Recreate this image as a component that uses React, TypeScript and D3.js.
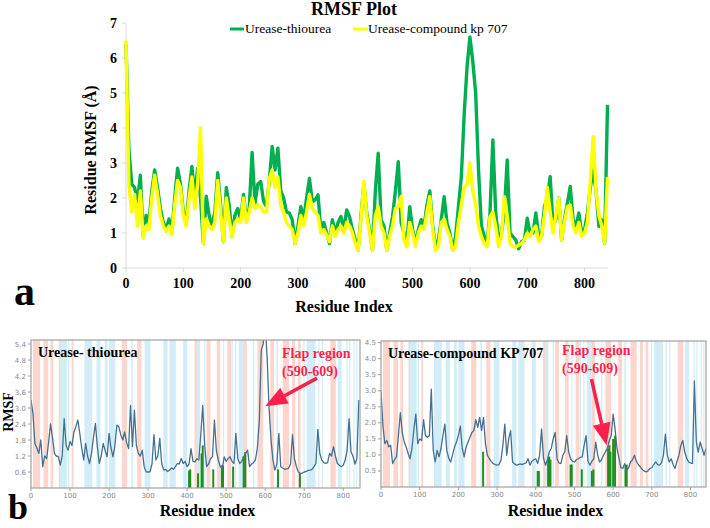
import React from 'react'
import * as d3 from 'd3'

// residue index sampled every 5 residues (0..840)
const residues = d3.range(0, 841, 5)

// panel a: RMSF (Å)
const thioureaTop = [
  6.4, 3.4, 2.4, 2.3, 1.9, 2.65, 0.9, 1.5, 1.3, 2.2,
  2.8, 2.3, 1.7, 1.3, 1.1, 1.4, 1.0, 2.0, 2.85, 2.4,
  1.6, 1.25, 2.2, 2.9, 2.0, 2.85, 2.0, 0.7, 2.05, 1.5,
  1.2, 1.6, 2.72, 1.8, 0.75, 2.3, 1.8, 0.9, 1.5, 1.7,
  1.4, 2.1, 1.4, 1.7, 3.3, 1.85, 2.4, 2.47, 1.9, 1.75,
  2.5, 3.47, 2.8, 3.42, 2.2, 2.0, 1.6, 1.57, 1.38, 0.7,
  1.2, 1.75, 1.4, 2.0, 2.56, 1.9, 1.95, 2.09, 1.05, 1.3,
  1.0, 0.7, 1.38, 1.0, 1.3, 1.47, 1.1, 1.66, 1.47, 1.1,
  0.8, 0.51, 1.5, 2.4, 1.57, 1.09, 0.51, 2.2, 3.28, 1.38,
  1.2, 0.51, 1.0, 1.47, 2.2, 3.04, 1.3, 1.0, 0.7, 1.75,
  1.1, 0.7, 1.1, 1.38, 1.2, 1.8, 2.2, 1.2, 0.6, 0.8,
  1.38, 2.04, 1.28, 1.0, 0.51, 0.9, 1.75, 2.6, 4.4, 5.75,
  6.6, 5.9, 5.0, 2.8, 1.2, 0.9, 0.7, 1.57, 3.66, 1.57,
  0.8, 1.0, 1.6, 3.09, 1.0, 0.9, 0.8, 0.55, 0.75, 0.8,
  1.42, 1.0, 1.0, 1.57, 0.9, 0.9, 1.75, 2.0, 2.61, 1.2,
  1.4, 2.0, 0.8, 1.4, 1.85, 2.33, 1.38, 1.2, 1.57, 1.0,
  1.1, 1.57, 2.3, 2.8, 2.2, 1.19, 1.38, 0.7, 4.66,
]
const kp707Top = [
  6.5, 2.4, 1.6, 2.1, 1.2, 2.2, 0.85, 1.2, 1.1, 2.0,
  2.65, 2.1, 1.5, 1.2, 1.05, 1.2, 0.95, 1.8, 2.5, 2.3,
  1.5, 1.2, 2.0, 2.6, 1.7, 2.4, 4.0, 0.7, 1.4, 1.2,
  1.1, 1.3, 2.5, 1.6, 0.75, 2.0, 1.4, 0.9, 1.3, 1.4,
  1.3, 2.0, 1.3, 1.6, 2.0, 1.7, 1.8, 1.75, 1.6, 1.6,
  2.55, 2.8, 2.3, 2.6, 1.8, 1.6, 1.3, 1.2, 1.1, 0.7,
  1.0, 1.5, 1.2, 1.6, 2.1, 1.7, 1.6, 1.5, 1.0, 1.1,
  0.95, 0.75, 1.2, 0.9, 1.1, 1.2, 1.0, 1.3, 1.2, 1.0,
  0.7, 0.5, 1.4, 2.47, 1.5, 1.0, 0.5, 1.5, 1.75, 1.2,
  1.0, 0.5, 0.9, 1.2, 1.7, 1.75, 2.04, 0.8, 0.6, 1.3,
  1.0, 0.61, 1.0, 1.2, 1.1, 1.6, 2.04, 1.1, 0.5, 0.6,
  1.3, 1.4, 1.1, 0.9, 0.5, 0.6, 1.3, 1.8, 2.3, 2.4,
  3.0, 2.2, 1.8, 1.2, 0.9, 0.7, 0.61, 1.47, 1.6, 1.2,
  0.61, 0.9, 2.04, 1.5, 0.7, 0.61, 0.6, 0.65, 0.7, 0.8,
  1.0, 0.9, 1.1, 1.2, 0.75, 0.9, 1.5, 2.3, 1.6, 1.0,
  1.5, 2.0, 0.8, 1.3, 1.75, 1.8, 1.2, 1.0, 1.3, 0.9,
  1.0, 1.3, 2.5, 3.75, 2.2, 1.5, 1.2, 0.7, 2.6,
]

// panel b
const thioureaBottom = [
  3.3, 2.8, 1.67, 1.5, 1.3, 1.8, 0.8, 1.2, 1.1, 1.7,
  2.4, 1.9, 1.3, 1.2, 1.18, 0.86, 1.2, 2.6, 1.6, 1.42,
  1.74, 1.6, 2.1, 2.3, 2.55, 2.05, 1.5, 1.05, 1.67, 1.2,
  0.92, 1.3, 1.9, 2.42, 1.55, 0.92, 1.2, 1.67, 1.4, 1.17,
  2.05, 1.5, 1.17, 1.6, 2.36, 2.3, 2.0, 1.8, 2.1, 1.7,
  1.48, 3.1, 1.55, 2.92, 1.6, 1.3, 1.2, 1.42, 0.8, 0.61,
  0.6, 0.61, 0.9, 2.0, 1.05, 1.2, 1.86, 0.9, 0.67, 0.7,
  0.62, 0.67, 0.75, 0.7, 0.8, 0.92, 0.9, 1.11, 0.92, 1.0,
  0.8, 0.9, 1.48, 1.0, 0.98, 1.1, 1.05, 2.0, 3.1, 1.6,
  0.8, 0.9, 1.1, 1.17, 2.55, 1.4, 1.05, 0.8, 0.74, 1.17,
  1.0, 1.1, 1.17, 1.0, 0.92, 2.05, 1.1, 0.92, 1.0, 1.17,
  1.3, 1.42, 0.8, 0.9, 0.95, 1.05, 1.5, 2.5, 5.17, 5.4,
  6.2, 4.9, 3.0, 1.8, 1.05, 0.67, 0.9, 2.05, 0.8, 0.75,
  0.7, 0.72, 0.74, 0.9, 2.0, 1.1, 0.8, 0.6, 0.55, 0.55,
  0.6, 0.62, 0.66, 0.67, 0.7, 0.8, 0.92, 2.2, 1.3, 1.05,
  0.95, 0.92, 0.95, 1.3, 1.2, 1.55, 1.2, 0.92, 0.85, 0.8,
  0.85, 1.05, 1.4, 2.6, 1.35, 1.2, 0.9, 1.1, 3.3,
]
const kp707Bottom = [
  3.0, 1.9, 1.35, 1.45, 1.25, 1.3, 0.73, 0.85, 0.94, 1.6,
  2.32, 1.7, 1.4, 1.25, 1.05, 0.88, 1.2, 1.8, 2.27, 1.35,
  1.5, 1.45, 2.1, 1.6, 1.55, 1.6, 3.05, 1.14, 0.78, 1.14,
  0.94, 1.2, 1.6, 1.96, 1.14, 0.9, 0.78, 1.0, 1.25, 1.4,
  1.6, 1.9, 1.2, 0.94, 1.25, 1.4, 1.55, 1.7, 1.76, 2.1,
  1.86, 2.17, 1.76, 2.17, 1.35, 0.99, 0.88, 0.8, 0.73, 0.7,
  0.68, 0.7, 0.83, 1.3, 1.96, 0.99, 1.5, 1.76, 0.78, 0.72,
  0.68, 0.7, 0.72, 0.7, 0.73, 0.75, 0.88, 0.68, 0.8, 0.85,
  0.88, 0.73, 1.0, 1.81, 0.9, 0.68, 0.85, 1.09, 1.2, 1.5,
  1.7, 0.88, 0.75, 0.73, 0.99, 1.1, 1.6, 1.1, 0.88, 0.8,
  0.78, 0.85, 0.88, 0.92, 0.94, 1.3, 1.6, 0.8, 0.68, 0.8,
  0.88, 1.4, 1.0, 0.78, 0.85, 0.99, 1.1, 1.2, 1.45, 1.6,
  2.27, 1.81, 1.2, 0.9, 0.6, 0.58, 0.73, 0.52, 0.6, 0.78,
  0.85, 0.99, 0.8, 0.7, 0.63, 0.55, 0.5, 0.47, 0.5, 0.58,
  0.6, 0.7, 0.78, 0.7, 0.68, 0.75, 1.0, 1.65, 1.0, 0.78,
  0.88, 0.7, 0.58, 0.8, 0.99, 1.3, 1.45, 1.09, 0.9, 0.78,
  0.75, 0.73, 3.3, 1.4, 1.09, 1.4, 1.2, 0.99, 1.2,
]

// secondary-structure shading (residue ranges)
const helixBands = [
  [5, 23], [32, 44], [50, 57], [71, 80], [104, 109], [233, 246], [272, 283],
  [419, 428], [450, 460], [476, 485], [503, 513], [540, 553], [580, 595],
  [613, 623], [645, 661], [669, 677], [684, 691], [767, 781],
]
const strandBands = [
  [75, 92], [95, 98], [137, 157], [168, 178], [189, 196], [200, 216], [257, 261],
  [291, 306], [339, 350], [355, 371], [390, 400], [425, 433], [444, 447],
  [492, 495], [514, 517], [523, 526], [532, 545], [569, 572], [629, 633],
  [698, 701], [706, 729], [736, 738], [745, 748], [786, 796], [808, 811],
  [815, 818], [826, 829], [833, 836],
]

// contact residues (green sticks): [residue, height]
const contactsThiourea = [
  [405, 0.65], [408, 0.7], [428, 0.55], [437, 1.3], [440, 1.6], [467, 0.7],
  [489, 0.85], [492, 0.85], [518, 0.8], [545, 1.2], [549, 1.35], [633, 0.7], [689, 0.55],
]
const contactsKp707 = [
  [264, 1.1], [405, 0.5], [408, 0.5], [432, 0.9], [435, 0.95], [438, 0.85],
  [490, 0.7], [493, 0.7], [519, 0.55], [545, 0.5], [549, 0.55], [587, 1.2],
  [590, 1.3], [593, 1.1], [600, 1.5], [605, 1.6], [632, 0.65], [635, 0.7],
]

const xTicksTop = [0, 100, 200, 300, 400, 500, 600, 700, 800]
const yTicksTop = [0, 1, 2, 3, 4, 5, 6, 7]
const yTicksLeft = [0.6, 1.2, 1.8, 2.4, 3.0, 3.6, 4.2, 4.8, 5.4]
const yTicksRight = [0.5, 1.0, 1.5, 2.0, 2.5, 3.0, 3.5, 4.0, 4.5]

const serif = '"Liberation Serif", "Times New Roman", serif'
const sans = '"DejaVu Sans", sans-serif'
const FLAP = '#ff1f4d'

function Arrow({ x1, y1, x2, y2 }) {
  const ang = Math.atan2(y2 - y1, x2 - x1)
  const len = 22, half = 9
  const bx = x2 - len * Math.cos(ang), by = y2 - len * Math.sin(ang)
  const px = -Math.sin(ang) * half, py = Math.cos(ang) * half
  return (
    <g>
      <line x1={x1} y1={y1} x2={bx} y2={by} stroke={FLAP} strokeWidth={3.5} />
      <polygon points={`${x2},${y2} ${bx + px},${by + py} ${bx - px},${by - py}`} fill={FLAP} />
    </g>
  )
}

function TopChart() {
  const x = d3.scaleLinear().domain([0, 840]).range([126, 607.5])
  const y = d3.scaleLinear().domain([0, 7]).range([268, 23])
  const line = d3.line<number>().x((_, i) => x(residues[i])).y(d => y(d))
  return (
    <g>
      <text x={354} y={15} textAnchor="middle" fontFamily={serif} fontWeight="bold" fontSize={18}>RMSF Plot</text>
      <line x1={230} x2={244} y1={29} y2={29} stroke="#00b050" strokeWidth={3} />
      <text x={245} y={33} fontFamily={serif} fontSize={13.5}>Urease-thiourea</text>
      <line x1={353} x2={368} y1={29} y2={29} stroke="#ffff00" strokeWidth={3} />
      <text x={368} y={33} fontFamily={serif} fontSize={13.5}>Urease-compound kp 707</text>

      <line x1={x(0)} x2={x(0)} y1={y(7)} y2={y(0)} stroke="#d9d9d9" />
      <line x1={x(0)} x2={608} y1={y(0)} y2={y(0)} stroke="#d9d9d9" />
      {yTicksTop.map(t => (
        <g key={t}>
          <line x1={x(0) - 4} x2={x(0)} y1={y(t)} y2={y(t)} stroke="#d9d9d9" />
          <text x={117} y={y(t) + 5} textAnchor="end" fontFamily={serif} fontWeight="bold" fontSize={14}>{t}</text>
        </g>
      ))}
      {xTicksTop.map(t => (
        <g key={t}>
          <line x1={x(t)} x2={x(t)} y1={y(0)} y2={y(0) + 4} stroke="#d9d9d9" />
          <text x={x(t)} y={288} textAnchor="middle" fontFamily={serif} fontWeight="bold" fontSize={14}>{t}</text>
        </g>
      ))}
      <path d={line(thioureaTop) || ''} fill="none" stroke="#00b050" strokeWidth={3.4} strokeLinejoin="round" />
      <path d={line(kp707Top) || ''} fill="none" stroke="#ffff00" strokeWidth={3.4} strokeLinejoin="round" />

      <text x={344} y={312} textAnchor="middle" fontFamily={serif} fontWeight="bold" fontSize={16}>Residue Index</text>
      <text transform="translate(96,150) rotate(-90)" textAnchor="middle" fontFamily={serif} fontWeight="bold" fontSize={16}>Residue RMSF (Å)</text>
      <text x={14} y={305} fontFamily={serif} fontWeight="bold" fontSize={42}>a</text>
    </g>
  )
}

function Panel({ id, left, right, top, bottom, xMax, yMax, yTicks, values, contacts, title, flapX, flapY, arrow }) {
  const x = d3.scaleLinear().domain([0, xMax]).range([left, right])
  const y = d3.scaleLinear().domain([0, yMax]).range([bottom, top])
  const line = d3.line<number>().x((_, i) => x(residues[i])).y(d => y(d))
  const fmt = d3.format('.1f')
  return (
    <g>
      <defs>
        <clipPath id={id}><rect x={left} y={top} width={right - left} height={bottom - top} /></clipPath>
      </defs>
      <g clipPath={`url(#${id})`}>
        {helixBands.map(([a, b], i) => (
          <rect key={'h' + i} x={x(a)} y={top} width={x(b) - x(a)} height={bottom - top} fill="#fcd6cd" />
        ))}
        {strandBands.map(([a, b], i) => (
          <rect key={'s' + i} x={x(a)} y={top} width={Math.max(1.2, x(b) - x(a))} height={bottom - top} fill="#d2edf8" />
        ))}
        {contacts.map(([r, h], i) => (
          <line key={'c' + i} x1={x(r)} x2={x(r)} y1={y(0)} y2={y(h)} stroke="#1f8f1f" strokeWidth={2} />
        ))}
        <path d={line(values) || ''} fill="none" stroke="#46708f" strokeWidth={1.3} strokeLinejoin="round" />
      </g>
      <rect x={left} y={top} width={right - left} height={bottom - top} fill="none" stroke="#a0a0a0" strokeWidth={1.2} />
      {yTicks.map(t => (
        <g key={t}>
          <line x1={left - 3} x2={left} y1={y(t)} y2={y(t)} stroke="#a0a0a0" />
          <text x={left - 5} y={y(t) + 2.5} textAnchor="end" fontFamily={sans} fontSize={7} fill="#888">{fmt(t)}</text>
        </g>
      ))}
      {xTicksTop.map(t => (
        <g key={t}>
          <line x1={x(t)} x2={x(t)} y1={bottom} y2={bottom + 3} stroke="#a0a0a0" />
          <text x={x(t)} y={bottom + 10} textAnchor="middle" fontFamily={sans} fontSize={7} fill="#888">{t}</text>
        </g>
      ))}
      <text x={left + 7} y={top + 17} fontFamily={serif} fontWeight="bold" fontSize={14}>{title}</text>
      <text x={flapX} y={flapY} fontFamily={serif} fontWeight="bold" fontSize={14} fill={FLAP}>Flap region</text>
      <text x={flapX} y={flapY + 18} fontFamily={serif} fontWeight="bold" fontSize={14} fill={FLAP}>(590-609)</text>
      <Arrow x1={x(arrow[0])} y1={y(arrow[1])} x2={x(arrow[2])} y2={y(arrow[3])} />
      <text x={(left + right) / 2 + 12} y={516} textAnchor="middle" fontFamily={serif} fontWeight="bold" fontSize={16}>Residue index</text>
    </g>
  )
}

export default function App() {
  return (
    <svg width={710} height={528} style={{ position: 'absolute', left: 0, top: 0, background: '#fff' }}>
      <rect width={710} height={528} fill="#fff" />
      <TopChart />
      <Panel id="clipL" left={31} right={360} top={340} bottom={488} xMax={843} yMax={5.55}
        yTicks={yTicksLeft} values={thioureaBottom} contacts={contactsThiourea}
        title="Urease- thiourea" flapX={282} flapY={358} arrow={[733, 4.12, 600, 3.07]} />
      <Panel id="clipR" left={381} right={706} top={341} bottom={487} xMax={840} yMax={4.55}
        yTicks={yTicksRight} values={kp707Bottom} contacts={contactsKp707}
        title="Urease-compound KP 707" flapX={562} flapY={355} arrow={[544, 3.36, 583, 1.3]} />
      <text transform="translate(13,412) rotate(-90)" textAnchor="middle" fontFamily={serif} fontWeight="bold" fontSize={14}>RMSF</text>
      <text x={8} y={519} fontFamily={serif} fontWeight="bold" fontSize={36}>b</text>
    </svg>
  )
}
